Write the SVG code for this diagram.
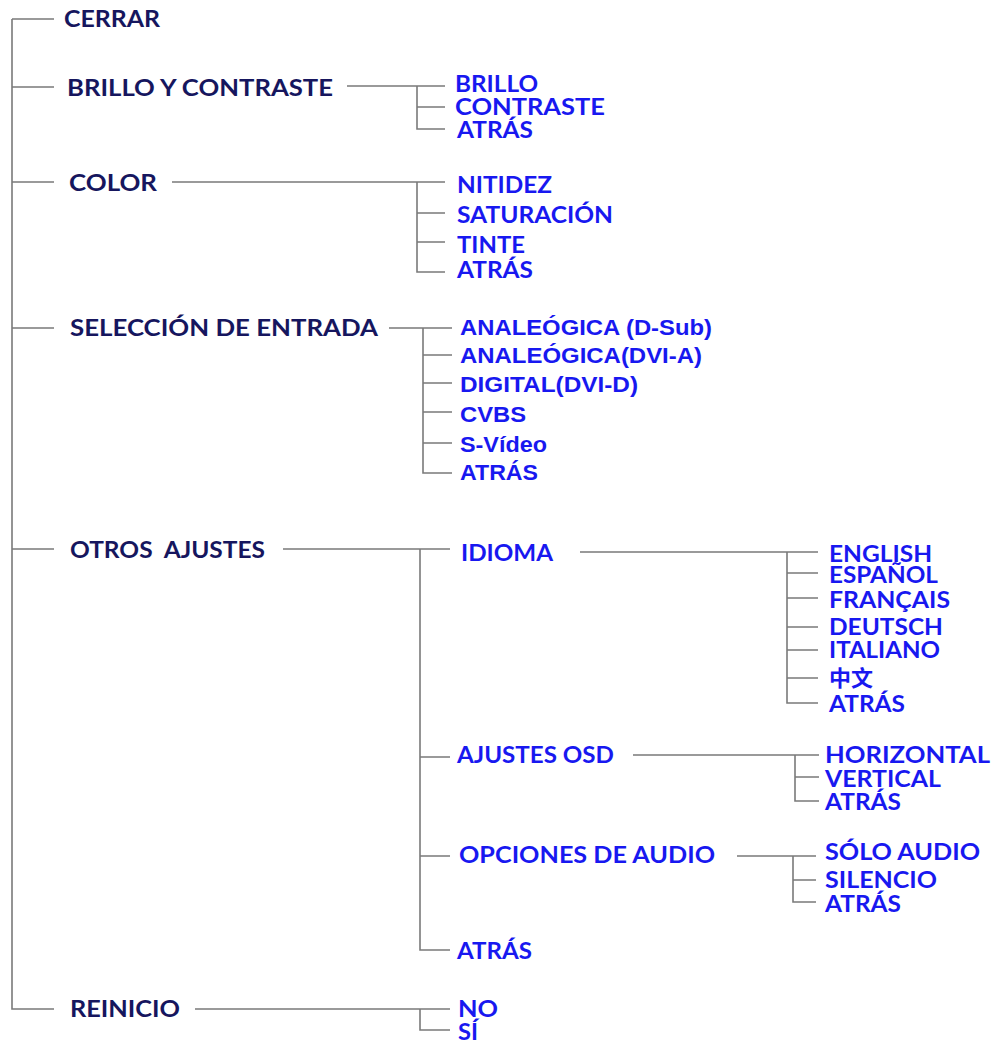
<svg xmlns="http://www.w3.org/2000/svg" width="995" height="1044" viewBox="0 0 995 1044">
<style>
.ln{stroke:#7a7a7a;stroke-width:1.6;fill:none}
text{font-size:22px;font-weight:bold}
.m{font-family:Lato,"Open Sans",sans-serif;fill:#16165e}
.s{font-family:Lato,"Open Sans",sans-serif;fill:#1818f0}
.a{font-family:"Liberation Sans",Arial,sans-serif;fill:#1818f0}
.c{font-family:"Noto Sans CJK SC",sans-serif;fill:#1818f0;font-size:22px}
</style>
<rect width="995" height="1044" fill="#ffffff"/>
<g id="connectors">
<path class="ln" d="M12 19 V1009 H54 M12 19 H54 M12 87 H54 M12 182 H54 M12 328 H54 M12 549 H54"/>
<path class="ln" d="M347 86 H445 M417 86 V129 H445 M417 107 H445"/>
<path class="ln" d="M172 182 H445 M417 182 V272 H445 M417 213 H445 M417 242 H445"/>
<path class="ln" d="M389 328 H452 M423 328 V473 H452 M423 355 H452 M423 383 H452 M423 412 H452 M423 443 H452"/>
<path class="ln" d="M283 549 H450 M420 549 V950 H450 M420 757 H450 M420 856 H450"/>
<path class="ln" d="M580 552 H818 M787 552 V703 H818 M787 573 H818 M787 598 H818 M787 627 H818 M787 650 H818 M787 678 H818"/>
<path class="ln" d="M633 755 H819 M795 755 V801 H819 M795 777 H819"/>
<path class="ln" d="M737 856 H816 M793 856 V902 H816 M793 880 H816"/>
<path class="ln" d="M195 1009 H450 M420 1009 V1030 H450"/>
</g>
<g id="cerrar"><text class="m" x="64" y="27" textLength="96" lengthAdjust="spacingAndGlyphs">CERRAR</text></g>
<g id="brillo-contraste"><text class="m" x="67" y="96" textLength="266" lengthAdjust="spacingAndGlyphs">BRILLO Y CONTRASTE</text></g>
<g id="brillo"><text class="s" x="455" y="92" textLength="83" lengthAdjust="spacingAndGlyphs">BRILLO</text></g>
<g id="contraste"><text class="s" x="455" y="115" textLength="150" lengthAdjust="spacingAndGlyphs">CONTRASTE</text></g>
<g id="atras-brillo"><text class="s" x="457" y="138" textLength="76" lengthAdjust="spacingAndGlyphs">ATRÁS</text></g>
<g id="color"><text class="m" x="69" y="191" textLength="88" lengthAdjust="spacingAndGlyphs">COLOR</text></g>
<g id="nitidez"><text class="s" x="457" y="193" textLength="95" lengthAdjust="spacingAndGlyphs">NITIDEZ</text></g>
<g id="saturacion"><text class="s" x="457" y="223" textLength="156" lengthAdjust="spacingAndGlyphs">SATURACIÓN</text></g>
<g id="tinte"><text class="s" x="457" y="253" textLength="68" lengthAdjust="spacingAndGlyphs">TINTE</text></g>
<g id="atras-color"><text class="s" x="457" y="278" textLength="76" lengthAdjust="spacingAndGlyphs">ATRÁS</text></g>
<g id="seleccion"><text class="m" x="70" y="336" textLength="308" lengthAdjust="spacingAndGlyphs">SELECCIÓN DE ENTRADA</text></g>
<g id="dsub"><text class="a" x="460" y="335" textLength="252" lengthAdjust="spacingAndGlyphs">ANALEÓGICA (D-Sub)</text></g>
<g id="dvia"><text class="a" x="460" y="363" textLength="242" lengthAdjust="spacingAndGlyphs">ANALEÓGICA(DVI-A)</text></g>
<g id="dvid"><text class="a" x="460" y="392" textLength="178" lengthAdjust="spacingAndGlyphs">DIGITAL(DVI-D)</text></g>
<g id="cvbs"><text class="a" x="460" y="422" textLength="66" lengthAdjust="spacingAndGlyphs">CVBS</text></g>
<g id="svideo"><text class="a" x="460" y="452" textLength="87" lengthAdjust="spacingAndGlyphs">S-Vídeo</text></g>
<g id="atras-sel"><text class="a" x="460" y="480" textLength="78" lengthAdjust="spacingAndGlyphs">ATRÁS</text></g>
<g id="otros"><text class="m" x="70" y="558" textLength="195" lengthAdjust="spacingAndGlyphs" xml:space="preserve">OTROS  AJUSTES</text></g>
<g id="idioma"><text class="s" x="461" y="561" textLength="92" lengthAdjust="spacingAndGlyphs">IDIOMA</text></g>
<g id="english"><text class="s" x="829" y="562" textLength="103" lengthAdjust="spacingAndGlyphs">ENGLISH</text></g>
<g id="espanol"><text class="s" x="829" y="583" textLength="109" lengthAdjust="spacingAndGlyphs">ESPAÑOL</text></g>
<g id="francais"><text class="s" x="829" y="608" textLength="121" lengthAdjust="spacingAndGlyphs">FRANÇAIS</text></g>
<g id="deutsch"><text class="s" x="829" y="635" textLength="114" lengthAdjust="spacingAndGlyphs">DEUTSCH</text></g>
<g id="italiano"><text class="s" x="829" y="658" textLength="111" lengthAdjust="spacingAndGlyphs">ITALIANO</text></g>
<g id="chino"><text class="c" x="829" y="686">中文</text></g>
<g id="atras-idioma"><text class="s" x="829" y="712" textLength="76" lengthAdjust="spacingAndGlyphs">ATRÁS</text></g>
<g id="osd"><text class="s" x="457" y="763" textLength="157" lengthAdjust="spacingAndGlyphs">AJUSTES OSD</text></g>
<g id="horizontal"><text class="s" x="825" y="763" textLength="165" lengthAdjust="spacingAndGlyphs">HORIZONTAL</text></g>
<g id="vertical"><text class="s" x="825" y="787" textLength="116" lengthAdjust="spacingAndGlyphs">VERTICAL</text></g>
<g id="atras-osd"><text class="s" x="825" y="810" textLength="76" lengthAdjust="spacingAndGlyphs">ATRÁS</text></g>
<g id="audio"><text class="s" x="459" y="863" textLength="256" lengthAdjust="spacingAndGlyphs">OPCIONES DE AUDIO</text></g>
<g id="solo-audio"><text class="s" x="825" y="860" textLength="155" lengthAdjust="spacingAndGlyphs">SÓLO AUDIO</text></g>
<g id="silencio"><text class="s" x="825" y="888" textLength="112" lengthAdjust="spacingAndGlyphs">SILENCIO</text></g>
<g id="atras-audio"><text class="s" x="825" y="912" textLength="76" lengthAdjust="spacingAndGlyphs">ATRÁS</text></g>
<g id="atras-otros"><text class="s" x="457" y="959" textLength="75" lengthAdjust="spacingAndGlyphs">ATRÁS</text></g>
<g id="reinicio"><text class="m" x="70" y="1017" textLength="110" lengthAdjust="spacingAndGlyphs">REINICIO</text></g>
<g id="no"><text class="s" x="458" y="1017" textLength="40" lengthAdjust="spacingAndGlyphs">NO</text></g>
<g id="si"><text class="s" x="458" y="1040" textLength="20" lengthAdjust="spacingAndGlyphs">SÍ</text></g>
</svg>
